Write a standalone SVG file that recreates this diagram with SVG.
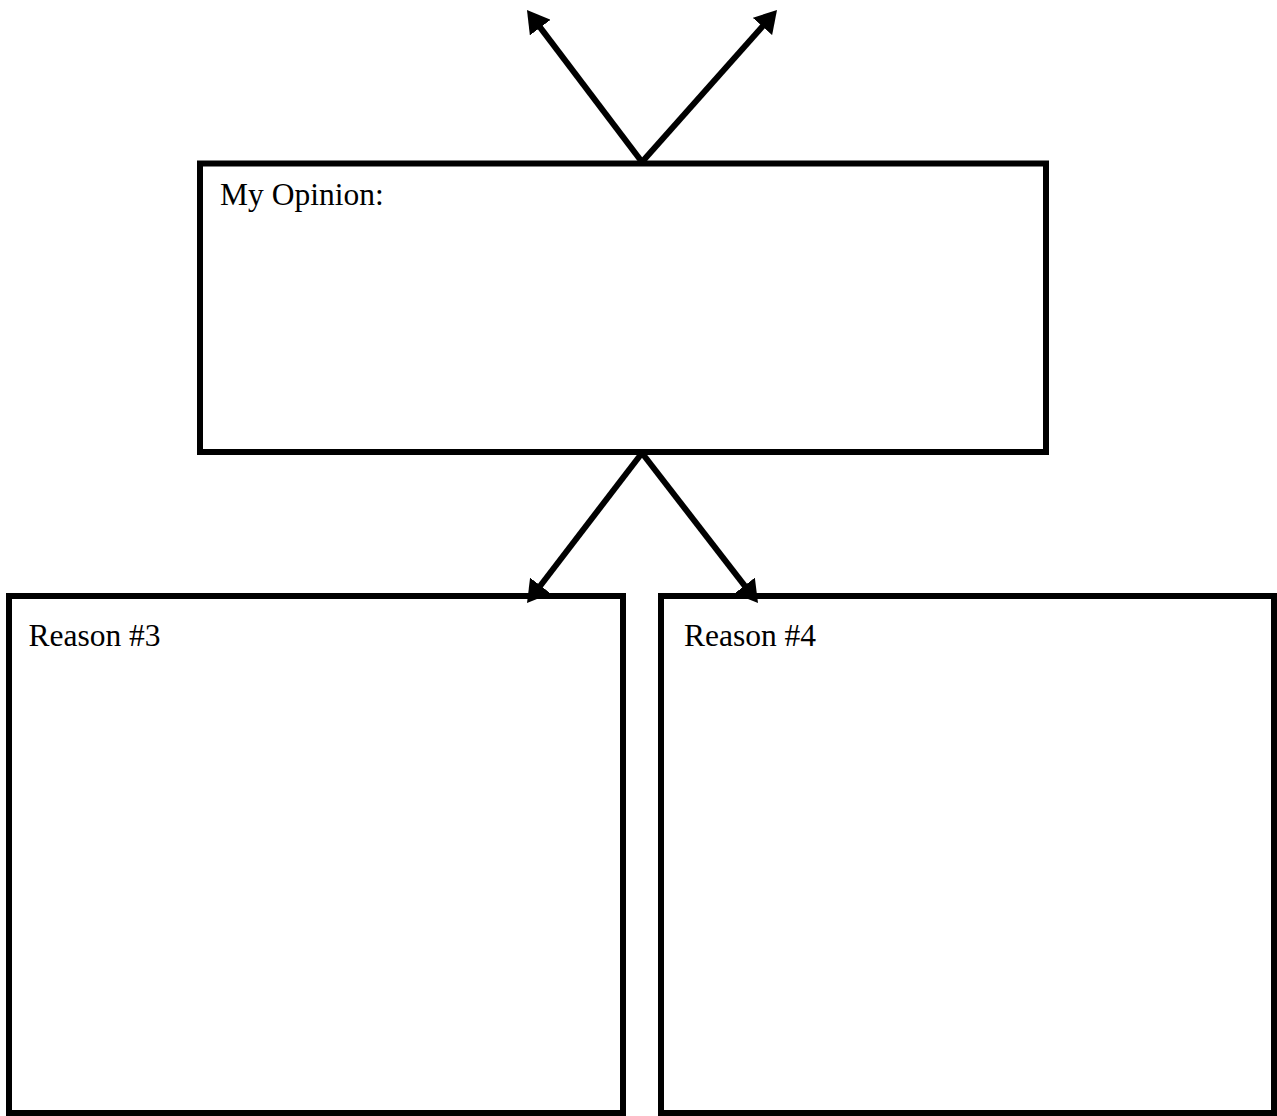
<svg xmlns="http://www.w3.org/2000/svg" width="1277" height="1116" viewBox="0 0 1277 1116">
  <style>
    .box { fill: #ffffff; stroke: #000000; stroke-width: 6; }
    .label { font-family: "Liberation Serif", "Times New Roman", serif; font-size: 31.5px; fill: #000000; }
    .link { fill: none; stroke: #000000; stroke-width: 6; }
  </style>
  <defs>
    <marker id="arrowhead" markerUnits="userSpaceOnUse" markerWidth="24" markerHeight="26" viewBox="0 0 24 26" refX="14" refY="13" orient="auto">
      <path d="M0,0 L22,13 L0,26 z" fill="#000000"/>
    </marker>
  </defs>
  <rect width="1277" height="1116" fill="#ffffff"/>

  <g id="opinion">
    <rect class="box" x="200" y="163.5" width="846" height="288.5"/>
    <text class="label" x="220" y="205">My Opinion:</text>
  </g>

  <g id="reason3">
    <rect class="box" x="9" y="596" width="614" height="517"/>
    <text class="label" x="28.5" y="646">Reason #3</text>
  </g>

  <g id="reason4">
    <rect class="box" x="661" y="596" width="613" height="517"/>
    <text class="label" x="684" y="646">Reason #4</text>
  </g>

  <g id="connectors">
    <line class="link" x1="642" y1="162" x2="531.8" y2="16.4" marker-end="url(#arrowhead)"/>
    <line class="link" x1="642" y1="162" x2="771.7" y2="16" marker-end="url(#arrowhead)"/>
    <line class="link" x1="642" y1="453" x2="531.9" y2="596.7" marker-end="url(#arrowhead)"/>
    <line class="link" x1="642" y1="453" x2="753.1" y2="596.7" marker-end="url(#arrowhead)"/>
  </g>
</svg>
